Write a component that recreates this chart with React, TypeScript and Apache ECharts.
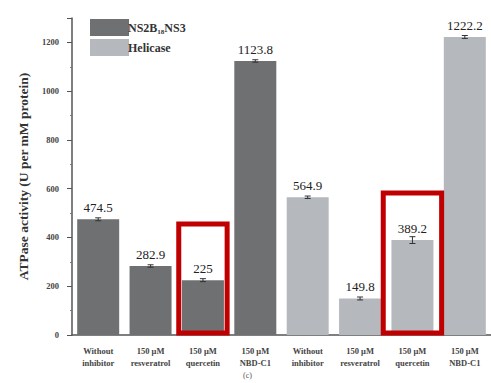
import React, { useEffect, useRef } from "react";
import * as echarts from "echarts";

const categories = [
  "Without\ninhibitor",
  "150 μM\nresveratrol",
  "150 μM\nquercetin",
  "150 μM\nNBD-C1",
  "Without\ninhibitor",
  "150 μM\nresveratrol",
  "150 μM\nquercetin",
  "150 μM\nNBD-C1",
];
const ns2bNs3 = [474.5, 282.9, 225, 1123.8, null, null, null, null];
const helicase = [null, null, null, null, 564.9, 149.8, 389.2, 1222.2];
const errors = [6, 5, 6, 5, 5, 6, 14, 6];
// categories framed by red boxes, and the value each box reaches
const highlighted = [2, 6];
const highlightTop = [455, 582];
const yTicks = { min: 0, max: 1300, interval: 200 };

const FONT = "'Liberation Serif', 'Times New Roman', serif";
const DARK = "#6f7071";
const LIGHT = "#b5b9bd";

export default function App() {
  const ref = useRef<HTMLDivElement>(null);
  useEffect(() => {
    if (!ref.current) return;
    const chart = echarts.init(ref.current, undefined, { renderer: "svg" });
    const values = categories.map((_, i) => (ns2bNs3[i] ?? helicase[i]) as number);
    const label = {
      show: true,
      position: "top" as const,
      distance: 5,
      formatter: (p: any) => `{v|${p.value}}`,
      rich: { v: { fontFamily: FONT, fontSize: 13, color: "#222" } },
    };
    chart.setOption({
      animation: false,
      textStyle: { fontFamily: FONT },
      grid: { left: 72, top: 18, bottom: 48, width: 424 },
      legend: {
        left: 85,
        top: 14,
        orient: "vertical",
        icon: "rect",
        itemWidth: 39,
        itemHeight: 17,
        itemGap: 3,
        selectedMode: false,
        data: ["NS2B18NS3", "Helicase"],
        formatter: (name: string) =>
          name === "NS2B18NS3" ? "{b|NS2B}{s|18}{b|NS3}" : "{b|Helicase}",
        textStyle: {
          padding: [0, 0, 0, -6],
          rich: {
            b: { fontFamily: FONT, fontWeight: "bold", fontSize: 12, color: "#333" },
            s: { fontFamily: FONT, fontWeight: "bold", fontSize: 7, color: "#333", padding: [8, 0, 0, 0] },
          },
        },
      },
      xAxis: [
        {
          type: "category",
          data: categories,
          axisLine: { lineStyle: { color: "#555", width: 1.5 } },
          axisTick: { alignWithLabel: true, length: 3, lineStyle: { color: "#555" } },
          axisLabel: {
            interval: 0,
            fontFamily: FONT,
            fontSize: 8.5,
            fontWeight: "bold",
            color: "#444",
            lineHeight: 12,
            margin: 10,
          },
        },
        {
          type: "category",
          data: categories,
          position: "bottom",
          axisLine: { show: false },
          axisTick: { length: 2, lineStyle: { color: "#777" } },
          axisLabel: { show: false },
        },
      ],
      yAxis: {
        type: "value",
        min: yTicks.min,
        max: yTicks.max,
        interval: yTicks.interval,
        name: "ATPase activity (U per mM protein)",
        nameLocation: "middle",
        nameGap: 42,
        nameTextStyle: { fontFamily: FONT, fontSize: 13.5, fontWeight: "bold", color: "#333" },
        axisLine: { show: true, lineStyle: { color: "#555", width: 1.5 } },
        axisTick: { show: true, length: 5, lineStyle: { color: "#555" } },
        minorTick: { show: true, splitNumber: 2, length: 2, lineStyle: { color: "#777" } },
        splitLine: { show: false },
        axisLabel: {
          fontFamily: FONT,
          fontSize: 8.5,
          fontWeight: "bold",
          color: "#444",
          margin: 13,
          showMaxLabel: false,
          formatter: (v: number) => (v % 200 === 0 ? String(v) : ""),
        },
      },
      series: [
        {
          name: "NS2B18NS3",
          type: "bar",
          data: ns2bNs3,
          barWidth: 42,
          barGap: "-100%",
          itemStyle: { color: DARK },
          label,
        },
        {
          name: "Helicase",
          type: "bar",
          data: helicase,
          barWidth: 42,
          barGap: "-100%",
          itemStyle: { color: LIGHT },
          label,
        },
        {
          type: "custom",
          name: "err",
          data: values.map((v, i) => [i, v - errors[i], v + errors[i]]),
          z: 5,
          renderItem: (params: any, api: any) => {
            const lo = api.coord([api.value(0), api.value(1)]);
            const hi = api.coord([api.value(0), api.value(2)]);
            const w = 3;
            const st = { stroke: "#333", lineWidth: 1 };
            return {
              type: "group",
              children: [
                { type: "line", shape: { x1: lo[0], y1: lo[1], x2: hi[0], y2: hi[1] }, style: st },
                { type: "line", shape: { x1: hi[0] - w, y1: hi[1], x2: hi[0] + w, y2: hi[1] }, style: st },
                { type: "line", shape: { x1: lo[0] - w, y1: lo[1], x2: lo[0] + w, y2: lo[1] }, style: st },
              ],
            };
          },
        },
      ],
    });

    // red frames around the quercetin bars, sized from the category band
    const c0 = chart.convertToPixel({ xAxisIndex: 0 }, 0) as number;
    const c1 = chart.convertToPixel({ xAxisIndex: 0 }, 1) as number;
    const band = c1 - c0;
    const base = chart.convertToPixel({ yAxisIndex: 0 }, 0) as number;
    const boxes = highlighted.map((idx, k) => {
      const cx = chart.convertToPixel({ xAxisIndex: 0 }, idx) as number;
      const top = chart.convertToPixel({ yAxisIndex: 0 }, highlightTop[k]) as number;
      const half = band / 2 - 2 + (k === 0 ? 0 : 5);
      return {
        type: "rect",
        z: 10,
        shape: { x: cx - half, y: top, width: half * 2, height: base - top - 2 },
        style: { fill: "none", stroke: "#c00000", lineWidth: 5 },
      };
    });
    chart.setOption({
      graphic: [
        ...boxes,
        {
          type: "text",
          left: 243,
          top: 371,
          style: { text: "(c)", fontFamily: FONT, fontSize: 8, fill: "#555" },
        },
      ],
    });
    return () => chart.dispose();
  }, []);
  return (
    <div
      ref={ref}
      style={{ position: "absolute", left: 0, top: 0, width: 491, height: 383, background: "#fff" }}
    />
  );
}
